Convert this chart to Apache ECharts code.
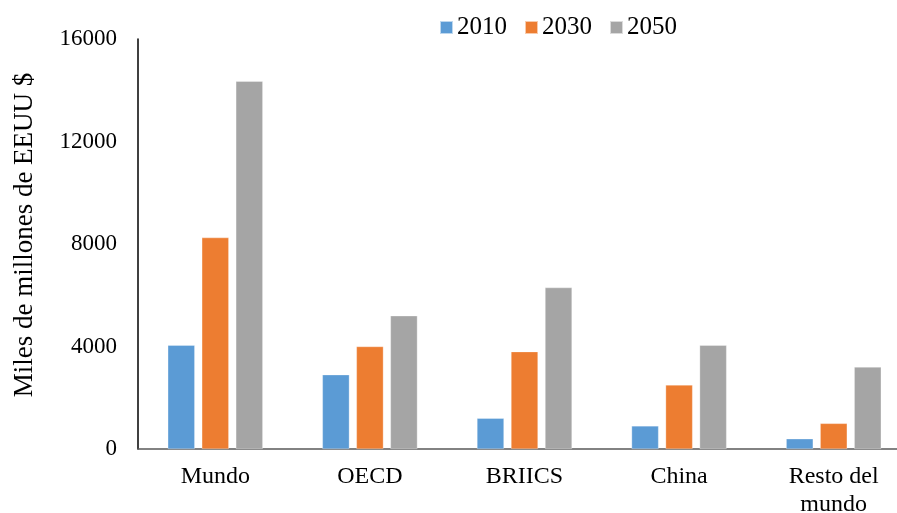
<!DOCTYPE html>
<html>
<head>
<meta charset="utf-8">
<script src="https://cdn.jsdelivr.net/npm/echarts@6/dist/echarts.min.js"></script>
<style>
  html, body { margin: 0; padding: 0; background: #fff; }
  #chart { width: 897px; height: 513px; }
</style>
</head>
<body>
<div id="chart"></div>
<script>
// Regions (x axis categories)
const categories = ['Mundo', 'OECD', 'BRIICS', 'China', 'Resto del\nmundo'];
// Values in miles de millones de EEUU $
const years = ['2010', '2030', '2050'];
const values2010 = [4050, 2900, 1200, 900, 400];
const values2030 = [8250, 4000, 3800, 2500, 1000];
const values2050 = [14350, 5200, 6300, 4050, 3200];
// Y axis ticks
const yMin = 0, yMax = 16000, yStep = 4000;

const colors = ['#5B9BD5', '#ED7D31', '#A5A5A5'];
const font = '"Liberation Serif", "Times New Roman", serif';

const chart = echarts.init(document.getElementById('chart'), null, { renderer: 'canvas' });

const seriesData = [values2010, values2030, values2050];

chart.setOption({
  animation: false,
  backgroundColor: '#ffffff',
  color: colors,
  textStyle: { fontFamily: font, color: '#000' },
  legend: {
    data: years,
    left: 434,
    top: 10,
    icon: 'rect',
    itemWidth: 13,
    itemHeight: 13,
    itemGap: 17,
    textStyle: { fontFamily: font, fontSize: 25, color: '#000', padding: [0, 0, 0, -1] }
  },
  grid: {
    left: 138,
    right: -14,
    top: 39,
    bottom: 64,
    containLabel: false,
    outerBoundsMode: 'none'
  },
  xAxis: {
    type: 'category',
    data: categories,
    axisLine: { show: true, lineStyle: { color: '#595959', width: 1.5 } },
    axisTick: { show: false },
    axisLabel: {
      fontFamily: font,
      fontSize: 24,
      color: '#000',
      margin: 14,
      lineHeight: 28,
      interval: 0
    }
  },
  yAxis: {
    type: 'value',
    min: yMin,
    max: yMax,
    interval: yStep,
    name: 'Miles de millones de EEUU $',
    nameLocation: 'middle',
    nameRotate: 90,
    nameGap: 100,
    nameTextStyle: { fontFamily: font, fontSize: 27, color: '#000', padding: [0, 0, 0, 18] },
    axisLine: { show: true, lineStyle: { color: '#000', width: 1.5 } },
    axisTick: { show: false },
    splitLine: { show: false },
    axisLabel: {
      fontFamily: font,
      fontSize: 23,
      color: '#000',
      margin: 21,
      formatter: (v) => String(v)
    }
  },
  series: years.map((y, i) => ({
    name: y,
    type: 'bar',
    data: seriesData[i],
    barWidth: 27,
    barGap: '26%',
    itemStyle: { color: colors[i], borderColor: 'rgba(255,255,255,0.6)', borderWidth: 0.5 }
  }))
});
</script>
</body>
</html>
